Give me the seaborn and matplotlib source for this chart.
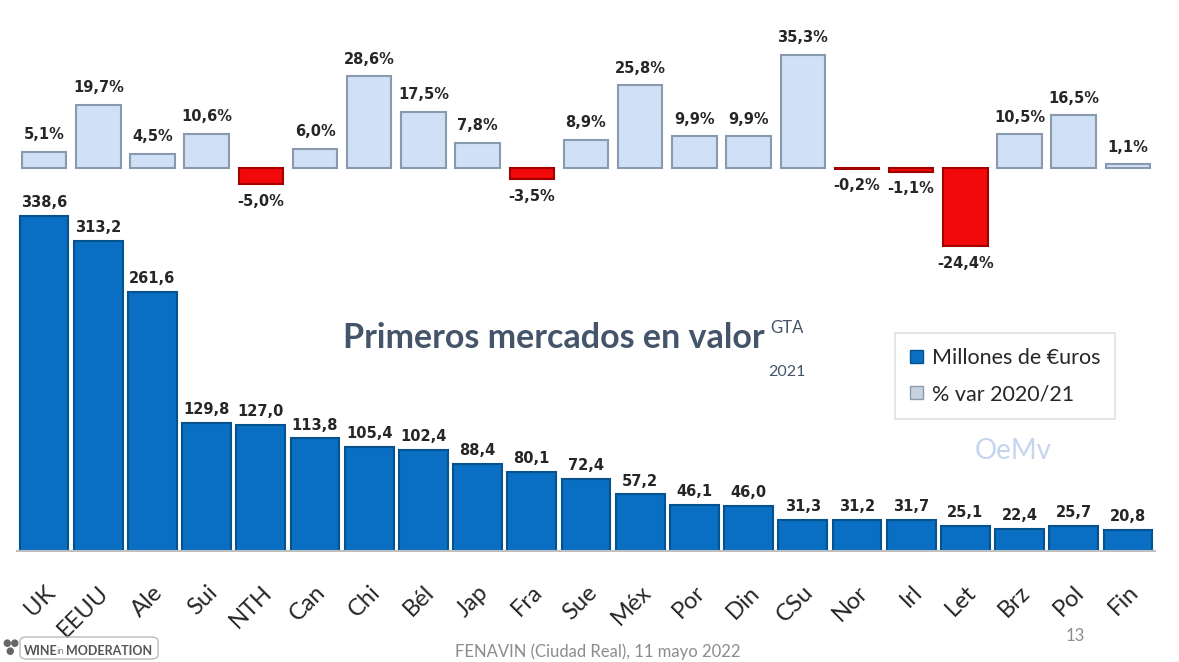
import matplotlib
matplotlib.use('Agg')
import matplotlib.pyplot as plt
import seaborn as sns
from matplotlib.patches import Patch, FancyBboxPatch

# mercados (top 21 in valor 2021)
mercados = ['UK', 'EEUU', 'Ale', 'Sui', 'NTH', 'Can', 'Chi', 'Bél', 'Jap', 'Fra', 'Sue',
            'Méx', 'Por', 'Din', 'CSu', 'Nor', 'Irl', 'Let', 'Brz', 'Pol', 'Fin']
millones = [338.6, 313.2, 261.6, 129.8, 127.0, 113.8, 105.4, 102.4, 88.4, 80.1, 72.4,
            57.2, 46.1, 46.0, 31.3, 31.2, 31.7, 25.1, 22.4, 25.7, 20.8]
var_pct = [5.1, 19.7, 4.5, 10.6, -5.0, 6.0, 28.6, 17.5, 7.8, -3.5, 8.9,
           25.8, 9.9, 9.9, 35.3, -0.2, -1.1, -24.4, 10.5, 16.5, 1.1]

sns.set_style('white')
plt.rcParams['font.family'] = ['DejaVu Sans']

blue = '#0A6FC2'
light = '#CFE0F7'
red = '#F20A0A'

fig = plt.figure(figsize=(11.79, 6.62), dpi=100)

# bottom panel: millones de euros
ax = fig.add_axes([17 / 1179, 111 / 662, 1138 / 1179, 356 / 662])
sns.barplot(x=mercados, y=millones, color=blue, width=0.9, saturation=1,
            edgecolor='#06528F', linewidth=1.5, ax=ax)
ax.set_xlim(-0.5, len(mercados) - 0.5)
ax.set_ylim(0, 360)
for i, v in enumerate(millones):
    ax.text(i, v + 6, f'{v:.1f}'.replace('.', ','), ha='center', va='bottom',
            fontsize=10.5, fontweight='bold')
ax.set_yticks([])
ax.set_xlabel('')
ax.set_ylabel('')
ax.tick_params(axis='x', length=0, pad=22)
ax.set_xticks(range(len(mercados)))
ax.set_xticklabels(mercados, rotation=45, ha='right', va='top', rotation_mode='anchor',
                   fontsize=17, family='Lato')
for s in ['top', 'right', 'left']:
    ax.spines[s].set_visible(False)
ax.spines['bottom'].set_color('#BFBFBF')
ax.spines['bottom'].set_linewidth(1.5)
ax.patch.set_alpha(0)

# top panel: % var 2020/21
ax2 = fig.add_axes([17 / 1179, 398 / 662, 1138 / 1179, 224 / 662])
cols = [light if v >= 0 else red for v in var_pct]
edges = ['#8A9AAE' if v >= 0 else '#A00000' for v in var_pct]
sns.barplot(x=mercados, y=var_pct, hue=mercados, palette=cols, legend=False,
            width=0.82, saturation=1, linewidth=1.5, ax=ax2)
for p, e in zip(ax2.patches, edges):
    p.set_edgecolor(e)
ax2.set_xlim(-0.5, len(mercados) - 0.5)
ax2.set_ylim(-30, 40)
for i, v in enumerate(var_pct):
    lab = f'{v:.1f}%'.replace('.', ',')
    if v >= 0:
        ax2.text(i, v + 3, lab, ha='center', va='bottom', fontsize=10.5, fontweight='bold')
    else:
        ax2.text(i, v - 3, lab, ha='center', va='top', fontsize=10.5, fontweight='bold')
ax2.axis('off')

# title and notes
fig.text(343 / 1179, 1 - 338 / 662, 'Primeros mercados en valor', fontsize=24.5,
         fontweight='bold', color='#44546A', family='Lato', va='center')
fig.text(770 / 1179, 1 - 328 / 662, 'GTA', fontsize=12, color='#44546A', family='Lato', va='center')
fig.text(768 / 1179, 1 - 372 / 662, '2021', fontsize=11.5, color='#44546A', family='Lato', va='center')

# legend
handles = [Patch(facecolor=blue, edgecolor='#06528F', label='Millones de €uros'),
           Patch(facecolor='#C8D2DE', edgecolor='#8A9AAE', label='% var 2020/21')]
leg = fig.legend(handles=handles, loc='upper left', bbox_to_anchor=(895 / 1179, 1 - 333 / 662),
                 frameon=True, fancybox=False, prop={'family': 'Lato', 'size': 15.5},
                 handlelength=0.6, handleheight=0.6, handletextpad=0.4, labelspacing=0.75,
                 borderpad=0.7, borderaxespad=0)
leg.get_frame().set_edgecolor('#D9D9D9')
leg.get_frame().set_linewidth(1.2)

fig.text(1013 / 1179, 1 - 451 / 662, 'OeMv', fontsize=20, color='#C5D5EE', family='Lato',
         ha='center', va='center')

# footer
fig.text(598 / 1179, 1 - 652 / 662, 'FENAVIN (Ciudad Real), 11 mayo 2022', fontsize=12,
         color='#8C8C8C', family='Lato', ha='center', va='center')
fig.text(1075 / 1179, 1 - 636 / 662, '13', fontsize=12, color='#8C8C8C', family='Lato',
         ha='center', va='center')
fig.text(24 / 1179, 1 - 651 / 662, 'WINE', fontsize=9, color='#555555', family='Lato',
         fontweight='bold', va='center')
fig.text(56 / 1179, 1 - 651 / 662, 'in', fontsize=7, color='#888888', family='Lato', va='center')
fig.text(66 / 1179, 1 - 651 / 662, 'MODERATION', fontsize=9, color='#555555', family='Lato',
         fontweight='bold', va='center')
fig.text(2 / 1179, 1 - 643 / 662, '●●', fontsize=7, color='#666666', va='center')
fig.text(5 / 1179, 1 - 651 / 662, '●', fontsize=7, color='#666666', va='center')
fig.patches.append(FancyBboxPatch((20 / 1179, 3 / 662), 138 / 1179, 22 / 662,
                                  boxstyle='round,pad=0,rounding_size=0.006',
                                  transform=fig.transFigure, facecolor='none',
                                  edgecolor='#BBBBBB', linewidth=1))

fig.savefig('out.png', dpi=100)
